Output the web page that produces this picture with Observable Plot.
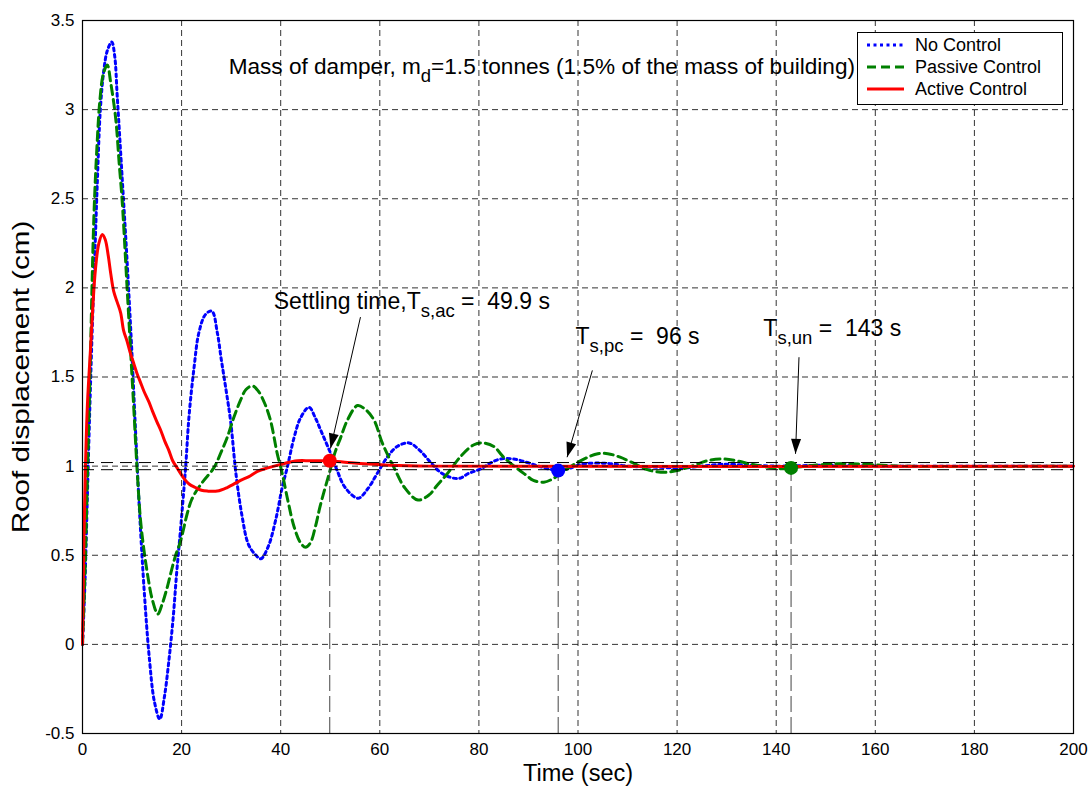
<!DOCTYPE html>
<html><head><meta charset="utf-8">
<script src="https://cdn.jsdelivr.net/npm/d3@7"></script>
<script src="https://cdn.jsdelivr.net/npm/@observablehq/plot@0.6"></script>
<style>
body{margin:0;background:#fff;}
#wrap{position:relative;width:1092px;height:792px;font-family:"Liberation Sans",Arial,sans-serif;}
#legend{position:absolute;left:857px;top:32px;width:204px;height:71px;border:1px solid #000;background:#fff;}
.row{position:absolute;left:0;height:22px;display:flex;align-items:center;font-size:18px;color:#000;white-space:nowrap;}
.row svg{display:block;margin-right:0;}
text.pre, text.pre tspan{white-space:pre;}
</style></head><body><div id="wrap"><div id="legend"></div></div>
<script>
// ---------- data ----------
const xTicks = [0, 20, 40, 60, 80, 100, 120, 140, 160, 180, 200];
const yTicks = [-0.5, 0, 0.5, 1, 1.5, 2, 2.5, 3, 3.5];

const seriesNames = ["No Control", "Passive Control", "Active Control"];
const seriesColors = ["#0000ff", "#008000", "#ff0000"];

// [time (s), roof displacement (cm)]
const noControl = [[0,0],[0.5,0.35],[1,0.85],[1.5,1.35],[2,1.8],[2.5,2.2],[3,2.6],[3.6,3.0],[4.3,3.22],[5,3.33],[5.9,3.38],[6.5,3.3],[7,3.08],[8,2.62],[9,2.15],[10,1.62],[10.7,1.2],[11.5,0.75],[12.5,0.28],[13.5,-0.08],[14.5,-0.32],[15.6,-0.42],[16.5,-0.3],[17.4,-0.1],[18.3,0.15],[19,0.4],[19.8,0.65],[20.8,0.99],[21.5,1.28],[22.5,1.55],[23.5,1.75],[24.8,1.85],[26.1,1.87],[27.2,1.75],[28,1.6],[28.9,1.44],[29.9,1.25],[31,0.95],[32.2,0.72],[33.5,0.56],[35,0.5],[36,0.48],[37.5,0.55],[39,0.7],[40.3,0.88],[41.3,0.99],[42.7,1.16],[44,1.27],[45.7,1.33],[47,1.27],[48.1,1.2],[50.1,1.07],[51.4,0.975],[53,0.88],[55.6,0.82],[57.5,0.87],[59.5,0.96],[61.5,1.05],[63.5,1.11],[65.9,1.13],[68,1.09],[70.3,1.02],[72.5,0.96],[75.8,0.93],[78,0.96],[80.4,0.985],[82.5,1.02],[84.4,1.04],[87,1.04],[89.8,1.02],[92,1.0],[94,0.985],[96,0.975],[98,0.985],[100,1.005],[102,1.015],[106,1.015],[110,1.0],[115,0.995],[121,0.99],[125,1.0],[129,1.01],[135,1.005],[140,1.0],[150,1.005],[160,1.0],[200,1.0]];

const passiveControl = [[0,0],[0.5,0.4],[1,0.95],[1.5,1.5],[2.3,2.4],[2.95,2.81],[3.5,3.05],[4.2,3.2],[5,3.25],[5.7,3.15],[6.7,2.95],[7.4,2.7],[8,2.49],[9,2.0],[10,1.5],[10.4,1.3],[11,0.99],[11.7,0.7],[12.4,0.53],[13.2,0.38],[14.1,0.25],[15.2,0.17],[16,0.22],[17.1,0.32],[18,0.42],[18.8,0.5],[19.8,0.58],[21.1,0.73],[22,0.81],[23.2,0.87],[24.5,0.92],[26.5,0.99],[28,1.08],[29.2,1.16],[30.5,1.27],[31.9,1.37],[33,1.43],[34.3,1.45],[35.5,1.42],[36.8,1.35],[38,1.25],[39.3,1.07],[40.3,0.96],[41.5,0.8],[42.7,0.66],[44,0.57],[45,0.545],[46,0.57],[47,0.66],[48,0.78],[49.8,0.96],[51,1.08],[52.1,1.16],[53.5,1.26],[55.5,1.34],[57,1.32],[58.8,1.26],[60.5,1.13],[62.9,0.99],[65,0.88],[67.7,0.81],[70,0.84],[71.5,0.89],[73.7,0.96],[76.5,1.06],[79,1.12],[80.8,1.13],[83,1.11],[85,1.05],[87.1,1.0],[89.5,0.95],[91,0.92],[93.1,0.91],[95,0.93],[97,0.97],[99.2,1.01],[102,1.05],[104,1.07],[106,1.07],[108.5,1.05],[111.3,1.015],[114,0.98],[117.4,0.965],[120,0.975],[123.5,1.005],[126,1.03],[129,1.04],[132,1.03],[135,1.01],[138,0.995],[140.4,0.985],[143,0.99],[146,1.0],[150,1.01],[154,1.015],[158,1.01],[165,1.0],[200,1.0]];

const activeControl = [[0,0],[0.3,0.6],[0.6,1.0],[1,1.35],[1.6,1.65],[2.1,1.9],[2.6,2.1],[3.3,2.25],[4,2.3],[4.6,2.27],[5.2,2.18],[5.7,2.08],[6.3,1.98],[7,1.92],[7.7,1.86],[8.3,1.76],[9,1.7],[9.7,1.63],[10.3,1.58],[11,1.52],[11.7,1.47],[12.4,1.42],[13.4,1.36],[14.1,1.31],[15,1.25],[15.8,1.2],[16.6,1.14],[17.4,1.09],[18.2,1.03],[19.1,0.99],[20.5,0.93],[21.5,0.9],[22.8,0.88],[24,0.865],[25.2,0.86],[27.2,0.86],[29.2,0.88],[31.9,0.92],[33.5,0.94],[35.3,0.97],[37.4,0.99],[40,1.01],[43.4,1.03],[46,1.03],[49.9,1.03],[53.5,1.02],[56,1.015],[58.8,1.01],[62,1.005],[70,1.0],[200,1.0]];

// settling points
const settleTimes = [49.9, 96, 143];
const settleValues = [1.03, 0.975, 0.99];
const settleColors = ["#ff0000", "#0000ff", "#008000"];
const bandLimits = [0.98, 1.02];

// annotations
const titleText = "Mass of damper, m_{d}=1.5 tonnes (1.5% of the mass of building)";
const annotTexts = ["Settling time,T_{s,ac} =  49.9 s", "T_{s,pc} =  96 s", "T_{s,un} =  143 s"];
const annotX = [38.6, 99.5, 137.4];
const annotY = [1.925, 1.727, 1.772];
const arrowFrom = [[56.1, 1.836], [102.9, 1.537], [144.6, 1.611]];
const arrowTo = [[50.05, 1.099], [97.8, 1.05], [143.9, 1.069]];

// ---------- chart ----------
const W = 1092, H = 792, ML = 82, MR = 19, MT = 20, MB = 59;
const xDomain = [0, 200], yDomain = [-0.5, 3.5];
const kx = (W - ML - MR) / (xDomain[1] - xDomain[0]);
const ky = (H - MT - MB) / (yDomain[1] - yDomain[0]);
const font = "'Liberation Sans', Arial, sans-serif";

const settle = settleTimes.map((t, i) => ({t, y: settleValues[i], color: settleColors[i]}));
const annots = annotTexts.map((s, i) => ({s, x: annotX[i], y: annotY[i]}));
const arrows = arrowFrom.map((f, i) => {
  const [x1, y1] = f, [x2, y2] = arrowTo[i];
  const dx = (x2 - x1) * kx, dy = -(y2 - y1) * ky;
  return {x1, y1, x2, y2, angle: Math.atan2(dx, -dy) * 180 / Math.PI};
});
const arrowHead = {draw(ctx) { ctx.moveTo(0, 0); ctx.lineTo(-5, 15); ctx.lineTo(5, 15); ctx.closePath(); }};

const lineStyles = [
  {data: noControl, dash: "3,3.5"},
  {data: passiveControl, dash: "9,5"},
  {data: activeControl, dash: null}
];

const chart = Plot.plot({
  width: W, height: H,
  marginLeft: ML, marginRight: MR, marginTop: MT, marginBottom: MB,
  style: {fontFamily: font, fontSize: "17px", background: "#fff", color: "#000", overflow: "visible"},
  x: {domain: xDomain, label: null},
  y: {domain: yDomain, label: null},
  marks: [
    ...lineStyles.map((s, i) => Plot.line(s.data, {
      x: d => d[0], y: d => d[1], stroke: seriesColors[i], strokeWidth: 3,
      strokeDasharray: s.dash, curve: "catmull-rom"
    })),
    Plot.ruleY(bandLimits, {stroke: "#000", strokeWidth: 1, strokeDasharray: "12,7"}),
    Plot.ruleX(settle, {x: "t", y1: yDomain[0], y2: "y", stroke: "#444", strokeWidth: 1, strokeDasharray: "16,5"}),
    Plot.gridX({ticks: xTicks, stroke: "#000", strokeOpacity: 0.8, strokeDasharray: "6,4"}),
    Plot.gridY({ticks: yTicks, stroke: "#000", strokeOpacity: 0.8, strokeDasharray: "6,4"}),
    Plot.dot(settle, {x: "t", y: "y", r: 7, fill: "color", stroke: "none"}),
    Plot.link(arrows, {x1: "x1", y1: "y1", x2: "x2", y2: "y2", stroke: "#000", strokeWidth: 1}),
    Plot.dot(arrows, {x: "x2", y: "y2", symbol: arrowHead, r: 5, fill: "#000", stroke: "none", rotate: "angle"}),
    Plot.text([titleText], {x: 29.5, y: 3.24, text: d => d, textAnchor: "start", fontSize: 22.6, fill: "#000"}),
    Plot.text(annots, {x: "x", y: "y", text: "s", textAnchor: "start", fontSize: 23, fill: "#000"}),
    Plot.frame({stroke: "#000", strokeWidth: 1.2}),
    Plot.axisX({ticks: xTicks, tickSize: 0, tickPadding: 9, tickFormat: d => String(d), fontSize: 17, label: null}),
    Plot.axisY({ticks: yTicks, tickSize: 0, tickPadding: 8, tickFormat: d => String(d), fontSize: 17, label: null}),
    Plot.text(["Time (sec)"], {frameAnchor: "bottom", text: d => d, dy: 47, fontSize: 23.5, fill: "#000"}),
    Plot.text(["Roof displacement (cm)"], {frameAnchor: "left", text: d => d, textAnchor: "middle", dx: -61, rotate: -90, fontSize: 23.5, fill: "#000"})
  ]
});

// subscripts "_{...}" → tspans
const NS = "http://www.w3.org/2000/svg";
const XMLNS = "http://www.w3.org/XML/1998/namespace";
chart.querySelectorAll("text").forEach(t => {
  const s = t.textContent;
  if (s === "Roof displacement (cm)") {
    const tr = t.getAttribute("transform");
    if (tr && tr.includes("rotate")) t.setAttribute("transform", tr + " scale(1.26,1)");
    return;
  }
  if (!s.includes("_{")) return;
  t.textContent = "";
  t.classList.add("pre");
  t.setAttributeNS(XMLNS, "xml:space", "preserve");
  const parts = s.split(/(_\{[^}]*\})/).filter(p => p);
  let down = false;
  for (const p of parts) {
    const ts = document.createElementNS(NS, "tspan");
    ts.setAttributeNS(XMLNS, "xml:space", "preserve");
    if (p.startsWith("_{")) {
      ts.textContent = p.slice(2, -1);
      ts.setAttribute("font-size", "18.5");
      ts.setAttribute("dy", "8");
      down = true;
    } else {
      ts.textContent = p.replace(/  /g, " \u00a0");
      if (down) { ts.setAttribute("dy", "-8"); down = false; }
    }
    t.appendChild(ts);
  }
});

document.getElementById("wrap").prepend(chart);

// legend
const legend = document.getElementById("legend");
seriesNames.forEach((name, i) => {
  const row = document.createElement("div");
  row.className = "row";
  row.style.top = (1 + i * 22) + "px";
  const dash = lineStyles[i].dash ? `stroke-dasharray="${lineStyles[i].dash}"` : "";
  row.innerHTML = `<svg width="57" height="22"><line x1="9" x2="46" y1="11" y2="11" stroke="${seriesColors[i]}" stroke-width="3" ${dash}/></svg><span>${name}</span>`;
  legend.appendChild(row);
});
</script>
</body></html>
